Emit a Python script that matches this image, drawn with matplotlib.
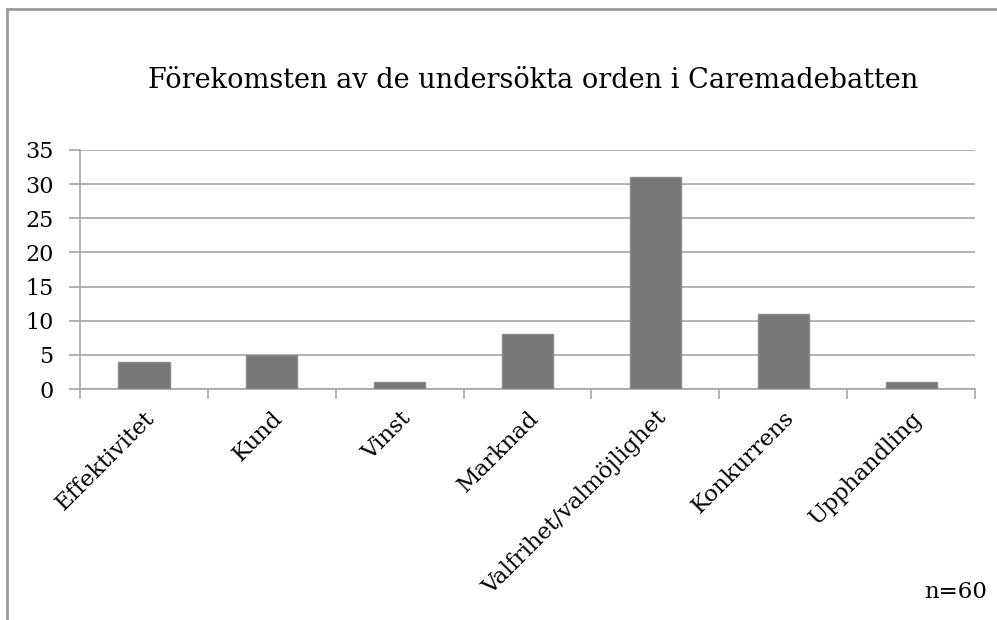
import matplotlib.pyplot as plt
from matplotlib.patches import Rectangle

categories = ["Effektivitet", "Kund", "Vinst", "Marknad",
              "Valfrihet/valmöjlighet", "Konkurrens", "Upphandling"]
counts = [4, 5, 1, 8, 31, 11, 1]
yticks = [0, 5, 10, 15, 20, 25, 30, 35]

plt.rcParams['font.family'] = ['DejaVu Serif']

fig = plt.figure(figsize=(9.97, 6.2), dpi=100)
ax = fig.add_axes([80 / 997, 1 - 389 / 620, 895 / 997, 239 / 620])

grid = '#a6a6a6'
x = list(range(len(categories)))
ax.bar(x, counts, width=0.4, color='#767676', edgecolor='#8c8c8c',
       linewidth=1, zorder=3)

ax.set_xlim(-0.5, len(categories) - 0.5)
ax.set_ylim(0, 35)
ax.set_yticks(yticks)
ax.yaxis.grid(True, color=grid, linewidth=1.2, zorder=0)
ax.tick_params(axis='y', length=8, width=1.2, color=grid, labelsize=16, pad=11)

# category ticks sit at boundaries
ax.set_xticks([i - 0.5 for i in range(len(categories) + 1)], minor=False)
ax.set_xticklabels([''] * (len(categories) + 1))
ax.tick_params(axis='x', which='major', length=7, width=1.2, color=grid)
ax.set_xticks(x, minor=True)
ax.set_xticklabels(categories, minor=True, rotation=45, ha='right',
                   rotation_mode='anchor', fontsize=16.5)
ax.tick_params(axis='x', which='minor', length=0, pad=13)

for s in ['top', 'right']:
    ax.spines[s].set_visible(False)
for s in ['left', 'bottom']:
    ax.spines[s].set_color(grid)
    ax.spines[s].set_linewidth(1.2)

fig.text(0.535, 1 - 80 / 620, "Förekomsten av de undersökta orden i Caremadebatten",
         ha='center', va='center', fontsize=19.5)
fig.text(987 / 997, 1 - 592 / 620, "n=60", ha='right', va='center', fontsize=16.5)

fig.patches.append(Rectangle((7 / 997, -0.1), 1.1, 1 - 9 / 620 + 0.1,
                             transform=fig.transFigure, fill=False,
                             edgecolor='#9a9a9a', linewidth=2))

fig.savefig('out.png', dpi=100)
